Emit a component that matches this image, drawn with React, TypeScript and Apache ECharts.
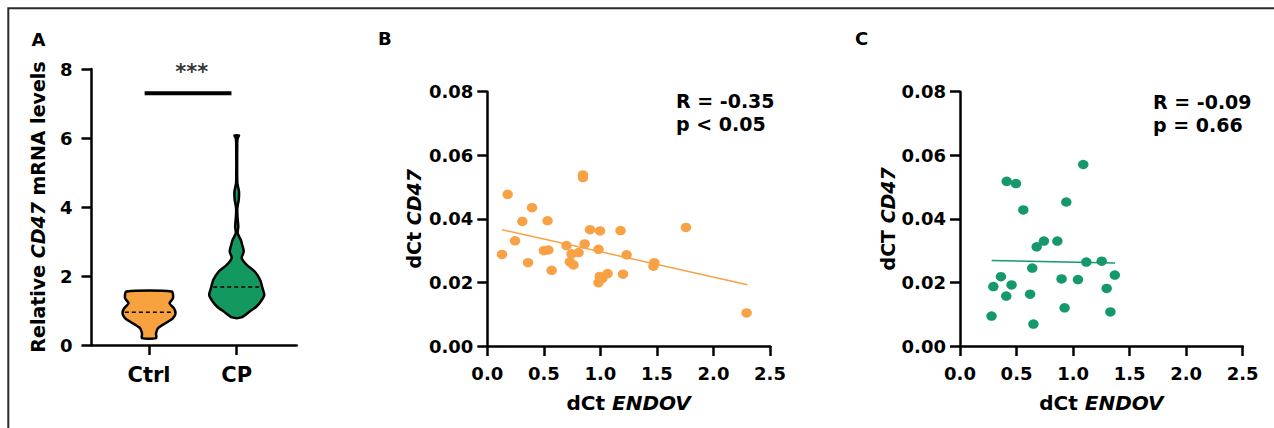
import React, { useEffect, useRef } from "react";
import * as echarts from "echarts";

const FONT = "DejaVu Sans";

// Panel A: violin plot
const groups = ["Ctrl", "CP"];
const violinColors = ["#F7A13F", "#13995F"];
// [value, half-width in category units], top to bottom
const ctrlProfile = [
  [1.55, 0.257], [1.36, 0.274], [1.21, 0.234], [1.06, 0.285], [0.92, 0.302],
  [0.78, 0.274], [0.63, 0.188], [0.49, 0.103], [0.34, 0.08], [0.2, 0.08],
];
const cpProfile = [
  [6.07, 0.026], [6.0, 0.011], [5.85, 0.006], [4.7, 0.007], [4.45, 0.026],
  [4.21, 0.023], [3.97, 0.007], [3.72, 0.009], [3.43, 0.018], [3.24, 0.011],
  [3.05, 0.046], [2.9, 0.063], [2.71, 0.08], [2.52, 0.057], [2.32, 0.114],
  [2.13, 0.205], [1.89, 0.266], [1.65, 0.294], [1.45, 0.314], [1.26, 0.274],
  [1.11, 0.223], [0.97, 0.148], [0.8, 0.052],
];
const violinProfiles = [ctrlProfile, cpProfile];
const medians = [0.95, 1.68];
const sigBar = [[-0.05, 7.3], [0.94, 7.3]];
const sigText = "***";
const sigPos = [0.487, 7.9];
const yTicksA = [0, 2, 4, 6, 8];

// Panel B
const pointsB = [
  [0.13, 0.0288], [0.18, 0.0477], [0.245, 0.0331], [0.31, 0.0392], [0.36, 0.0262],
  [0.395, 0.0435], [0.5, 0.030], [0.54, 0.0302], [0.533, 0.0394], [0.569, 0.0238],
  [0.70, 0.0316], [0.745, 0.029], [0.73, 0.0265], [0.762, 0.0255], [0.807, 0.0294],
  [0.846, 0.0538], [0.846, 0.053], [0.861, 0.0321], [0.908, 0.0366], [0.997, 0.0362],
  [0.984, 0.0304], [0.994, 0.0219], [0.983, 0.0199], [1.018, 0.0213], [1.064, 0.0228],
  [1.178, 0.0363], [1.232, 0.0287], [1.2, 0.0226], [1.477, 0.0262], [1.469, 0.0251],
  [1.757, 0.0373], [2.293, 0.0104],
];
const fitB = [[0.13, 0.0366], [2.3, 0.0193]];
const statsB = ["R = -0.35", "p < 0.05"];

// Panel C
const pointsC = [
  [0.279, 0.0094], [0.295, 0.0187], [0.362, 0.0218], [0.413, 0.0518], [0.409, 0.0157],
  [0.456, 0.0192], [0.495, 0.0511], [0.56, 0.0428], [0.62, 0.0163], [0.639, 0.0245],
  [0.649, 0.0069], [0.678, 0.0312], [0.742, 0.033], [0.861, 0.033], [0.898, 0.0211],
  [0.925, 0.012], [0.94, 0.0453], [1.043, 0.0209], [1.09, 0.0571], [1.117, 0.0264],
  [1.253, 0.0267], [1.297, 0.0181], [1.33, 0.0107], [1.369, 0.0223],
];
const fitC = [[0.28, 0.0269], [1.37, 0.0261]];
const statsC = ["R = -0.09", "p = 0.66"];

const ORANGE = "#F8A145";
const GREEN = "#16996A";

function interpWidth(prof: number[][], v: number) {
  for (let k = 0; k < prof.length - 1; k++) {
    const [v0, w0] = prof[k];
    const [v1, w1] = prof[k + 1];
    if ((v <= v0 && v >= v1)) {
      const t = (v - v0) / (v1 - v0);
      return w0 + t * (w1 - w0);
    }
  }
  return 0;
}

export default function App() {
  const ref = useRef<HTMLDivElement>(null);
  useEffect(() => {
    if (!ref.current) return;
    const chart = echarts.init(ref.current, undefined, { renderer: "svg" });

    const axisLine = { show: true, onZero: false, lineStyle: { color: "#000", width: 2.5 } };
    const axisTick = { show: true, length: 10, lineStyle: { color: "#000", width: 2.5 } };
    const labelBase = { color: "#000", fontFamily: FONT, fontWeight: "bold" as const, fontSize: 18 };
    const nameRich = (size: number) => ({
      n: { fontFamily: FONT, fontWeight: "bold", fontSize: size, color: "#000" },
      i: { fontFamily: FONT, fontWeight: "bold", fontStyle: "italic", fontSize: size, color: "#000" },
    });

    const option: any = {
      animation: false,
      grid: [
        { left: 91.5, top: 69, width: 205.2, height: 276 },
        { left: 487.3, top: 91.7, width: 282.7, height: 254.3 },
        { left: 960, top: 91.7, width: 282.7, height: 254.3 },
      ],
      xAxis: [
        {
          gridIndex: 0, type: "value", min: -0.656, max: 1.684,
          axisLine, axisTick: { ...axisTick, customValues: [0, 1] },
          splitLine: { show: false },
          axisLabel: { ...labelBase, fontSize: 21, margin: 19, customValues: [0, 1],
            formatter: (v: number) => groups[Math.round(v)] ?? "" },
        },
        {
          gridIndex: 1, type: "value", min: 0, max: 2.5, interval: 0.5,
          axisLine, axisTick, splitLine: { show: false },
          axisLabel: { ...labelBase, margin: 18, formatter: (v: number) => v.toFixed(1) },
          name: "{n|dCt }{i|ENDOV}", nameLocation: "middle", nameGap: 47,
          nameTextStyle: { fontSize: 20, rich: nameRich(20) },
        },
        {
          gridIndex: 2, type: "value", min: 0, max: 2.5, interval: 0.5,
          axisLine, axisTick, splitLine: { show: false },
          axisLabel: { ...labelBase, margin: 18, formatter: (v: number) => v.toFixed(1) },
          name: "{n|dCt }{i|ENDOV}", nameLocation: "middle", nameGap: 47,
          nameTextStyle: { fontSize: 20, rich: nameRich(20) },
        },
      ],
      yAxis: [
        {
          gridIndex: 0, type: "value", min: yTicksA[0], max: yTicksA[yTicksA.length - 1], interval: 2,
          axisLine, axisTick, splitLine: { show: false },
          axisLabel: { ...labelBase, margin: 19 },
          name: "{n|Relative }{i|CD47}{n| mRNA levels}", nameLocation: "middle", nameGap: 44,
          nameTextStyle: { fontSize: 19, rich: nameRich(19) },
        },
        {
          gridIndex: 1, type: "value", min: 0, max: 0.08, interval: 0.02,
          axisLine, axisTick, splitLine: { show: false },
          axisLabel: { ...labelBase, margin: 14, formatter: (v: number) => v.toFixed(2) },
          name: "{n|dCt }{i|CD47}", nameLocation: "middle", nameGap: 64,
          nameTextStyle: { fontSize: 19, rich: nameRich(19) },
        },
        {
          gridIndex: 2, type: "value", min: 0, max: 0.08, interval: 0.02,
          axisLine, axisTick, splitLine: { show: false },
          axisLabel: { ...labelBase, margin: 14, formatter: (v: number) => v.toFixed(2) },
          name: "{n|dCT }{i|CD47}", nameLocation: "middle", nameGap: 63,
          nameTextStyle: { fontSize: 19, rich: nameRich(19) },
        },
      ],
      series: [
        {
          type: "custom",
          xAxisIndex: 0, yAxisIndex: 0,
          data: groups.map((g, i) => [i, medians[i]]),
          renderItem: (params: any, api: any) => {
            const i = params.dataIndex;
            const prof = violinProfiles[i];
            const cx = api.value(0);
            const left = prof.map(([v, w]) => api.coord([cx - w, v]));
            const right = prof.map(([v, w]) => api.coord([cx + w, v])).reverse();
            const pts = left.concat(right);
            const med = medians[i];
            const hw = interpWidth(prof, med);
            const p1 = api.coord([cx - hw, med]);
            const p2 = api.coord([cx + hw, med]);
            return {
              type: "group",
              children: [
                {
                  type: "polygon",
                  shape: { points: pts, smooth: 0.25 },
                  style: { fill: violinColors[i], stroke: "#000", lineWidth: 2.5, lineJoin: "round" },
                },
                {
                  type: "line",
                  shape: { x1: p1[0] + 2, y1: p1[1], x2: p2[0] - 2, y2: p2[1] },
                  style: { stroke: "#000", lineWidth: 1.4, lineDash: [4, 3] },
                },
              ],
            };
          },
        },
        {
          type: "line", xAxisIndex: 0, yAxisIndex: 0, data: sigBar,
          symbol: "none", lineStyle: { color: "#000", width: 4 },
        },
        {
          type: "scatter", xAxisIndex: 0, yAxisIndex: 0, data: [sigPos], symbolSize: 0,
          label: { show: true, position: "inside", formatter: sigText, color: "#000",
            textBorderWidth: 0, fontFamily: FONT, fontWeight: "bold", fontSize: 21 },
        },
        {
          type: "scatter", xAxisIndex: 1, yAxisIndex: 1, data: pointsB,
          symbol: "circle", symbolSize: [10.5, 9.5], itemStyle: { color: ORANGE, opacity: 1 },
        },
        {
          type: "line", xAxisIndex: 1, yAxisIndex: 1, data: fitB, symbol: "none",
          lineStyle: { color: ORANGE, width: 1.5 },
        },
        {
          type: "scatter", xAxisIndex: 2, yAxisIndex: 2, data: pointsC,
          symbol: "circle", symbolSize: [10.5, 9.5], itemStyle: { color: GREEN, opacity: 1 },
        },
        {
          type: "line", xAxisIndex: 2, yAxisIndex: 2, data: fitC, symbol: "none",
          lineStyle: { color: GREEN, width: 1.5 },
        },
      ],
      graphic: [
        {
          type: "rect", shape: { x: 8.3, y: 8.3, width: 1400, height: 600 },
          style: { fill: "none", stroke: "#2b2b2b", lineWidth: 2 }, silent: true,
        },
        { type: "text", x: 31.5, y: 39, style: { text: "A", font: `bold 18px '${FONT}'`, fill: "#000", textVerticalAlign: "middle" } },
        { type: "text", x: 378, y: 38, style: { text: "B", font: `bold 18px '${FONT}'`, fill: "#000", textVerticalAlign: "middle" } },
        { type: "text", x: 855, y: 38, style: { text: "C", font: `bold 18px '${FONT}'`, fill: "#000", textVerticalAlign: "middle" } },
        { type: "text", x: 676, y: 101, style: { text: statsB[0], font: `bold 19px '${FONT}'`, fill: "#000", textVerticalAlign: "middle" } },
        { type: "text", x: 676, y: 124, style: { text: statsB[1], font: `bold 19px '${FONT}'`, fill: "#000", textVerticalAlign: "middle" } },
        { type: "text", x: 1153, y: 102, style: { text: statsC[0], font: `bold 19px '${FONT}'`, fill: "#000", textVerticalAlign: "middle" } },
        { type: "text", x: 1153, y: 125, style: { text: statsC[1], font: `bold 19px '${FONT}'`, fill: "#000", textVerticalAlign: "middle" } },
      ],
    };
    chart.setOption(option);
    return () => chart.dispose();
  }, []);
  return (
    <div
      ref={ref}
      style={{ position: "fixed", left: 0, top: 0, width: 1274, height: 428, background: "#fff" }}
    />
  );
}
